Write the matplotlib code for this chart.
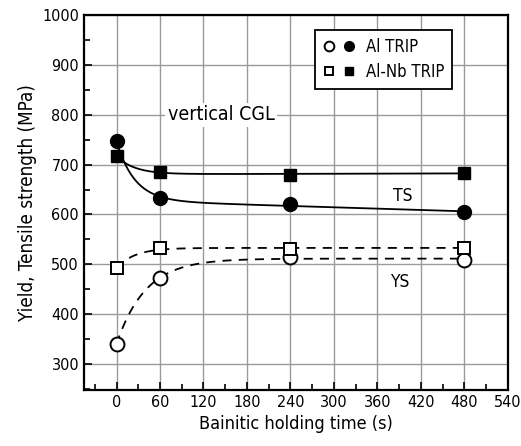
import numpy as np
import matplotlib.pyplot as plt
from matplotlib.legend_handler import HandlerTuple
from matplotlib.lines import Line2D
from matplotlib.ticker import MultipleLocator

plt.rcParams["font.family"] = ["DejaVu Sans"]
plt.rcParams["font.stretch"] = "condensed"
plt.rcParams["font.size"] = 12

# =============================================================================
# Data
# =============================================================================
time_s = [0, 60, 240, 480]
al_ts = [747, 634, 620, 605]
alnb_ts = [717, 685, 680, 683]
al_ys = [340, 472, 515, 508]
alnb_ys = [492, 532, 530, 533]


def smooth_fit(t, y, tau=25.0, linear=True):
    # y = a + b*exp(-t/tau) (+ c*t), least squares
    t = np.asarray(t, float)
    cols = [np.ones_like(t), np.exp(-t / tau)]
    if linear:
        cols.append(t)
    coef, *_ = np.linalg.lstsq(np.column_stack(cols), np.asarray(y, float), rcond=None)
    tt = np.linspace(0, 480, 300)
    yy = coef[0] + coef[1] * np.exp(-tt / tau)
    if linear:
        yy = yy + coef[2] * tt
    return tt, yy


# =============================================================================
# Plot
# =============================================================================
fig = plt.figure(figsize=(5.21, 4.46), dpi=100)
ax = fig.add_axes([0.161, 0.126, 0.814, 0.840])

ms = 10
for y in [al_ts, alnb_ts]:
    tt, yy = smooth_fit(time_s, y, tau=25)
    ax.plot(tt, yy, color="black", lw=1.3, zorder=3)
for y, tau in [(al_ys, 40), (alnb_ys, 25)]:
    tt, yy = smooth_fit(time_s, y, tau=tau, linear=False)
    ax.plot(tt, yy, color="black", lw=1.3, ls=(0, (5, 4)), zorder=3)

ax.plot(time_s, al_ts, "o", ms=ms, color="black", zorder=4)
ax.plot(time_s, alnb_ts, "s", ms=ms - 1, color="black", zorder=4)
ax.plot(time_s, al_ys, "o", ms=ms, mfc="white", mec="black", mew=1.4, zorder=4)
ax.plot(time_s, alnb_ys, "s", ms=ms - 1, mfc="white", mec="black", mew=1.4, zorder=4)

ax.set_xlim(-45, 540)
ax.set_ylim(248, 1000)
ax.xaxis.set_major_locator(MultipleLocator(60))
ax.xaxis.set_minor_locator(MultipleLocator(30))
ax.yaxis.set_minor_locator(MultipleLocator(50))
ax.set_yticks(range(300, 1001, 100))
ax.tick_params(which="both", direction="in", width=1.2, top=False, right=False)
ax.tick_params(which="major", length=6, labelsize=11.5)
ax.tick_params(which="minor", length=4)
ax.grid(which="major", color="#9a9a9a", lw=1.0)
ax.set_axisbelow(True)
for sp in ax.spines.values():
    sp.set_linewidth(1.6)

ax.set_xlabel("Bainitic holding time (s)", fontsize=13)
ax.set_ylabel("Yield, Tensile strength (MPa)", fontsize=13.5)

ax.text(144, 800, "vertical CGL", fontsize=14, ha="center", va="center",
        bbox=dict(facecolor="white", edgecolor="none", pad=2))
ax.text(395, 638, "TS", fontsize=12.5, ha="center", va="center")
ax.text(391, 465, "YS", fontsize=12.5, ha="center", va="center")

h_al = (Line2D([], [], ls="", marker="o", ms=7, mfc="white", mec="black", mew=1.4),
        Line2D([], [], ls="", marker="o", ms=7, color="black"))
h_nb = (Line2D([], [], ls="", marker="s", ms=6, mfc="white", mec="black", mew=1.4),
        Line2D([], [], ls="", marker="s", ms=6, color="black"))
leg = ax.legend([h_al, h_nb], ["Al TRIP", "Al-Nb TRIP"],
                handler_map={tuple: HandlerTuple(ndivide=None, pad=0.4)},
                loc="upper left", bbox_to_anchor=(0.545, 0.96), borderaxespad=0,
                fancybox=False, framealpha=1, edgecolor="black",
                fontsize=12, handlelength=2.0, handletextpad=0.6,
                borderpad=0.45, labelspacing=0.45)
leg.get_frame().set_linewidth(1.3)

fig.savefig("out.png", dpi=100)
